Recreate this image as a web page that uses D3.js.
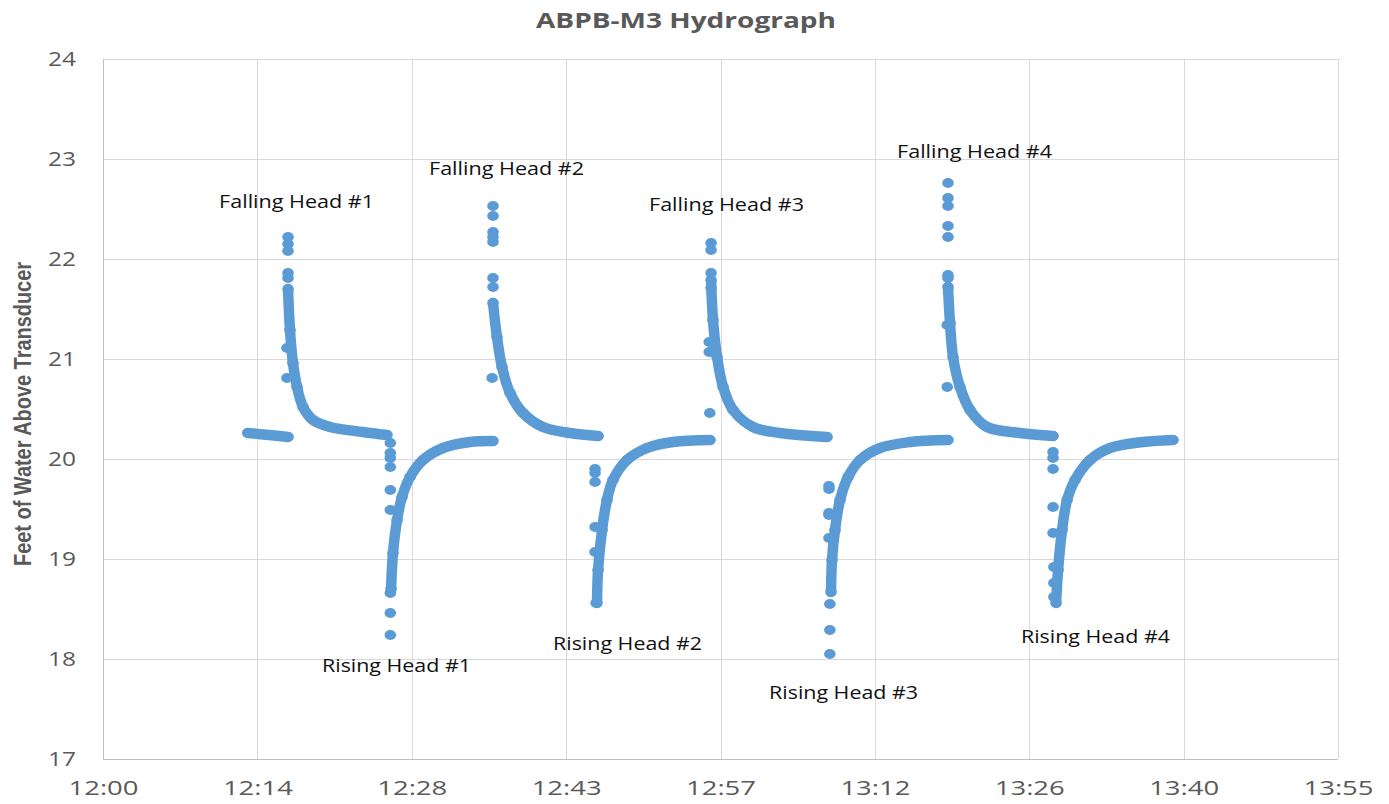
<!DOCTYPE html>
<html>
<head>
<meta charset="utf-8">
<script src="https://cdn.jsdelivr.net/npm/d3@7"></script>
<style>
  html, body { margin: 0; padding: 0; background: #fff; }
  svg { display: block; }
</style>
</head>
<body>
<svg id="chart" width="1389" height="804"></svg>
<script>
// ---------------- DATA (minutes after 12:00, feet of water) ----------------
const chartTitle = "ABPB-M3 Hydrograph";
const yTitle = "Feet of Water Above Transducer";

const xTickValues = [0, 14.4, 28.8, 43.2, 57.6, 72, 86.4, 100.8, 115.2];
const xTickLabels = ["12:00", "12:14", "12:28", "12:43", "12:57", "13:12", "13:26", "13:40", "13:55"];
const yTickValues = [17, 18, 19, 20, 21, 22, 23, 24];

// dense logged readings (drawn as a continuous band of markers)
const baseline = [[13.5, 20.26], [15.5, 20.24], [17.26, 20.22]];

const fallingHead1 = [[17.26, 21.70], [17.44, 21.29], [17.72, 20.96], [18.10, 20.72], [18.66, 20.52], [19.59, 20.39], [21.18, 20.32], [24.25, 20.27], [26.49, 20.24]];
const risingHead1  = [[26.87, 18.70], [27.05, 19.06], [27.43, 19.39], [27.89, 19.62], [28.64, 19.82], [29.85, 19.99], [31.72, 20.11], [34.24, 20.17], [36.38, 20.18]];
const fallingHead2 = [[36.38, 21.56], [36.75, 21.22], [37.22, 20.92], [37.97, 20.66], [39.18, 20.46], [41.04, 20.32], [43.56, 20.26], [46.18, 20.23]];
const risingHead2  = [[46.08, 18.56], [46.18, 18.89], [46.55, 19.29], [47.01, 19.59], [47.57, 19.79], [48.88, 19.99], [50.75, 20.11], [53.17, 20.17], [56.62, 20.19]];
const fallingHead3 = [[56.72, 21.79], [56.90, 21.39], [57.28, 21.02], [57.84, 20.72], [58.77, 20.49], [60.63, 20.32], [63.15, 20.26], [67.54, 20.22]];
const risingHead3  = [[67.91, 18.67], [68.00, 18.99], [68.28, 19.29], [68.75, 19.59], [69.50, 19.82], [70.62, 19.99], [72.48, 20.11], [75.28, 20.17], [78.82, 20.19]];
const fallingHead4 = [[78.82, 21.72], [79.01, 21.36], [79.29, 21.02], [79.94, 20.72], [80.88, 20.49], [82.46, 20.32], [85.54, 20.26], [88.62, 20.23]];
const risingHead4  = [[88.90, 18.56], [89.09, 18.89], [89.46, 19.29], [89.93, 19.59], [90.67, 19.79], [92.07, 19.99], [93.94, 20.11], [97.01, 20.17], [99.81, 20.19]];

// isolated readings at the moment of slug insertion / removal
const spikes1 = [[17.26, 22.22], [17.26, 22.15], [17.26, 22.08], [17.26, 21.86], [17.26, 21.81], [17.16, 21.11], [17.16, 20.81]];
const drops1  = [[26.8, 20.16], [26.8, 20.06], [26.8, 20.01], [26.8, 19.92], [26.8, 19.69], [26.8, 19.49], [26.8, 18.66], [26.8, 18.46], [26.8, 18.24]];
const spikes2 = [[36.38, 22.53], [36.38, 22.43], [36.38, 22.27], [36.38, 22.22], [36.38, 22.17], [36.38, 21.81], [36.38, 21.72], [36.3, 20.81]];
const drops2  = [[45.9, 19.90], [45.9, 19.86], [45.9, 19.77], [45.9, 19.32], [45.9, 19.07], [46.0, 18.56]];
const spikes3 = [[56.72, 22.16], [56.72, 22.09], [56.72, 21.86], [56.72, 21.71], [56.55, 21.17], [56.55, 21.07], [56.6, 20.46]];
const drops3  = [[67.72, 19.73], [67.72, 19.70], [67.72, 19.46], [67.72, 19.44], [67.72, 19.21], [67.8, 18.55], [67.8, 18.29], [67.8, 18.05]];
const spikes4 = [[78.82, 22.76], [78.82, 22.61], [78.82, 22.53], [78.82, 22.33], [78.82, 22.22], [78.82, 21.84], [78.82, 21.81], [78.75, 21.34], [78.75, 20.72]];
const drops4  = [[88.62, 20.07], [88.62, 20.01], [88.62, 19.90], [88.62, 19.52], [88.62, 19.26], [88.7, 18.92], [88.7, 18.76], [88.7, 18.62]];

// annotation text with anchor (minutes, feet)
const annotationText = ["Falling Head #1", "Falling Head #2", "Falling Head #3", "Falling Head #4",
                        "Rising Head #1", "Rising Head #2", "Rising Head #3", "Rising Head #4"];
const annotationX = [18.06, 37.64, 58.16, 81.30, 27.38, 48.93, 69.08, 92.58];
const annotationY = [22.58, 22.91, 22.55, 23.08, 17.94, 18.16, 17.67, 18.23];

// ---------------- DRAWING ----------------
const svg = d3.select("#chart");
const plot = { left: 103, right: 1338, top: 59, bottom: 759 };
const blue = "#5B9BD5";
const grey = "#595959";
const gridColor = "#D9D9D9";

const x = d3.scaleLinear().domain([0, 115.2]).range([plot.left, plot.right]);
const y = d3.scaleLinear().domain([17, 24]).range([plot.bottom, plot.top]);

// gridlines
svg.append("g").selectAll("line").data(yTickValues).join("line")
  .attr("x1", plot.left).attr("x2", plot.right)
  .attr("y1", d => Math.round(y(d)) + 0.5).attr("y2", d => Math.round(y(d)) + 0.5)
  .attr("stroke", gridColor).attr("stroke-width", 1);
svg.append("g").selectAll("line").data(xTickValues).join("line")
  .attr("y1", plot.top).attr("y2", plot.bottom)
  .attr("x1", d => Math.round(x(d)) + 0.5).attr("x2", d => Math.round(x(d)) + 0.5)
  .attr("stroke", gridColor).attr("stroke-width", 1);

// axis lines
svg.append("line").attr("x1", plot.left + 0.5).attr("x2", plot.left + 0.5)
  .attr("y1", plot.top).attr("y2", plot.bottom + 0.5).attr("stroke", "#BFBFBF");
svg.append("line").attr("x1", plot.left).attr("x2", plot.right)
  .attr("y1", plot.bottom + 0.5).attr("y2", plot.bottom + 0.5).attr("stroke", "#BFBFBF");

// x axis
const xAxis = svg.append("g").attr("transform", `translate(0,${plot.bottom})`)
  .call(d3.axisBottom(x).tickValues(xTickValues).tickFormat((d, i) => xTickLabels[i]).tickSize(0).tickPadding(22));
xAxis.select(".domain").remove();
xAxis.selectAll("text")
  .attr("font-family", "'Open Sans', 'Liberation Sans', sans-serif")
  .attr("font-size", 20).attr("fill", grey)
  .attr("textLength", 70).attr("lengthAdjust", "spacingAndGlyphs");

// y axis
const yAxis = svg.append("g").attr("transform", `translate(${plot.left},0)`)
  .call(d3.axisLeft(y).tickValues(yTickValues).tickFormat(d3.format("d")).tickSize(0).tickPadding(27));
yAxis.select(".domain").remove();
yAxis.selectAll("text")
  .attr("font-family", "'Open Sans', 'Liberation Sans', sans-serif")
  .attr("font-size", 20).attr("fill", grey)
  .attr("textLength", 28).attr("lengthAdjust", "spacingAndGlyphs");

// title
svg.append("text").attr("x", 686).attr("y", 20).attr("text-anchor", "middle")
  .attr("dominant-baseline", "central")
  .attr("font-family", "'Open Sans', 'Liberation Sans', sans-serif")
  .attr("font-weight", "bold").attr("font-size", 21).attr("fill", grey)
  .attr("textLength", 300).attr("lengthAdjust", "spacingAndGlyphs")
  .text(chartTitle);

// y title
svg.append("text").attr("transform", "translate(23,414) rotate(-90)")
  .attr("text-anchor", "middle").attr("dominant-baseline", "central")
  .attr("font-family", "'Liberation Sans Narrow', 'Liberation Sans', sans-serif")
  .attr("font-weight", "bold").attr("font-size", 23).attr("fill", grey)
  .attr("textLength", 304).attr("lengthAdjust", "spacingAndGlyphs")
  .text(yTitle);

// data bands
const bands = [baseline, fallingHead1, risingHead1, fallingHead2, risingHead2, fallingHead3, risingHead3, fallingHead4, risingHead4];
const line = d3.line().x(d => x(d[0])).y(d => y(d[1])).curve(d3.curveCatmullRom.alpha(0.5));
svg.append("g").selectAll("path").data(bands).join("path")
  .attr("d", line).attr("fill", "none").attr("stroke", blue)
  .attr("stroke-width", 10.5).attr("stroke-linecap", "round").attr("stroke-linejoin", "round");

// markers
const singles = [].concat(...bands, spikes1, drops1, spikes2, drops2, spikes3, drops3, spikes4, drops4);
svg.append("g").selectAll("ellipse").data(singles).join("ellipse")
  .attr("cx", d => x(d[0])).attr("cy", d => y(d[1]))
  .attr("rx", 5.8).attr("ry", 5).attr("fill", blue);

// annotations
svg.append("g").selectAll("text").data(annotationText).join("text")
  .attr("x", (d, i) => x(annotationX[i])).attr("y", (d, i) => y(annotationY[i]))
  .attr("text-anchor", "middle").attr("dominant-baseline", "central")
  .attr("font-family", "'Open Sans', 'Liberation Sans', sans-serif")
  .attr("font-size", 18).attr("fill", "#111")
  .attr("textLength", d => d.startsWith("Falling") ? 155 : 149)
  .attr("lengthAdjust", "spacingAndGlyphs")
  .text(d => d);
</script>
</body>
</html>
